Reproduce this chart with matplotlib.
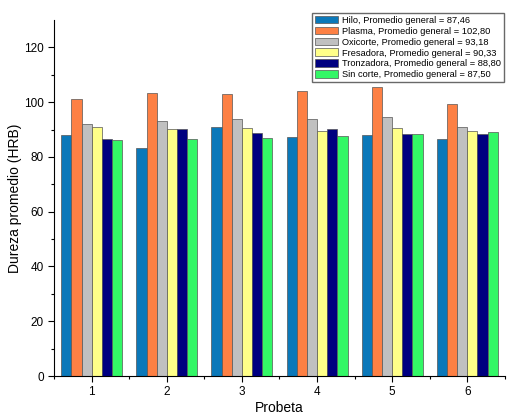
import numpy as np
import matplotlib
matplotlib.use('Agg')
import matplotlib.pyplot as plt

plt.rcParams['font.family'] = ['Liberation Sans', 'DejaVu Sans']

# Probetas 1..6
probetas = [1, 2, 3, 4, 5, 6]

# Dureza promedio por metodo de corte
hilo = [88.0, 83.1, 91.1, 87.1, 88.0, 86.4]
plasma = [101.3, 103.2, 102.9, 104.0, 105.4, 99.2]
oxicorte = [92.1, 93.1, 93.7, 93.8, 94.4, 91.0]
fresadora = [91.1, 90.1, 90.4, 89.5, 90.4, 89.5]
tronzadora = [86.5, 90.1, 88.6, 90.3, 88.2, 88.2]
sin_corte = [86.0, 86.4, 87.0, 87.5, 88.2, 89.2]

labels = [
    'Hilo, Promedio general = 87,46',
    'Plasma, Promedio general = 102,80',
    'Oxicorte, Promedio general = 93,18',
    'Fresadora, Promedio general = 90,33',
    'Tronzadora, Promedio general = 88,80',
    'Sin corte, Promedio general = 87,50',
]
colors = ['#0b78b9', '#fd8044', '#c0c0c0', '#ffff88', '#000080', '#33f766']
series = [hilo, plasma, oxicorte, fresadora, tronzadora, sin_corte]

fig = plt.figure(figsize=(5.2, 4.16), dpi=100)
ax = fig.add_axes([0.104, 0.096, 0.867, 0.856])

x = np.array(probetas)
w = 0.135
for i, (vals, c, lab) in enumerate(zip(series, colors, labels)):
    ax.bar(x + (i - 2.5) * w, vals, w, color=c, edgecolor='#555555',
           linewidth=0.5, label=lab)

ax.set_xlim(0.5, 6.5)
ax.set_ylim(0, 130)
ax.set_yticks([0, 20, 40, 60, 80, 100, 120])
ax.set_yticks(np.arange(10, 130, 20), minor=True)
ax.set_xticks(probetas)
ax.set_xticks(np.arange(0.5, 7, 1), minor=True)
ax.tick_params(which='both', direction='out', labelsize=8.5, width=0.8)
ax.tick_params(which='major', length=4)
ax.tick_params(which='minor', length=2.5)
ax.spines['top'].set_visible(False)
ax.spines['right'].set_visible(False)

ax.set_xlabel('Probeta', fontsize=10, labelpad=2)
ax.set_ylabel('Dureza promedio (HRB)', fontsize=10, labelpad=1)

ax.legend(loc='upper right', bbox_to_anchor=(0.969, 0.969),
          bbox_transform=fig.transFigure, fontsize=6.7, frameon=True,
          fancybox=False, edgecolor='#444444', handlelength=2.5,
          handleheight=0.9, labelspacing=0.2, borderpad=0.3,
          handletextpad=0.4, borderaxespad=0)

fig.savefig('out.png', dpi=100)
